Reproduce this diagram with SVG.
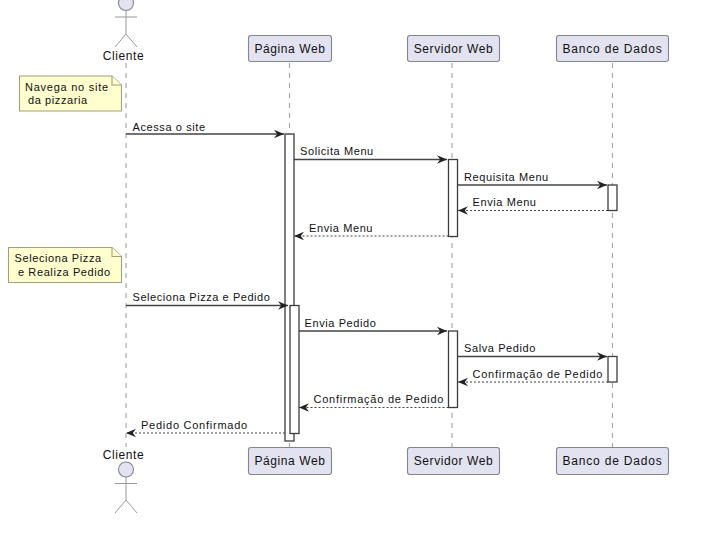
<svg xmlns="http://www.w3.org/2000/svg" width="705" height="538" viewBox="0 0 705 538">
<style>
text{font-family:"Liberation Sans",Arial,sans-serif;fill:#111}
.m{font-size:11px;letter-spacing:.6px}
.w{letter-spacing:.75px}
.p{font-size:12px;letter-spacing:.6px}
.b{letter-spacing:.8px}
.life{stroke:#a8a8a8;stroke-width:1.2;stroke-dasharray:5 5;fill:none}
.box{fill:#e2e2f0;stroke:#85858c;stroke-width:1.1}
.act{fill:#fff;stroke:#3c3c3c;stroke-width:1.3}
.note{fill:#fefece;stroke:#a0a080;stroke-width:1.1}
.fig{fill:none;stroke:#999;stroke-width:1}
.s{stroke:#444;stroke-width:1.4;fill:none;marker-end:url(#a)}
.d{stroke:#444;stroke-width:1.1;stroke-dasharray:2 2;fill:none;marker-end:url(#b)}
</style>
<defs>
<marker id="a" markerUnits="userSpaceOnUse" markerWidth="12" markerHeight="10" refX="10" refY="5" orient="auto"><path d="M0 .8L10 5L0 9.200L3.200 5Z" fill="#222"/></marker>
<marker id="b" markerUnits="userSpaceOnUse" markerWidth="12" markerHeight="10" refX="10" refY="5" orient="auto"><path d="M0 .8L10 5L0 9.200L3.200 5Z" fill="#222"/></marker>
</defs>
<g id="lifelines">
<path class="life" d="M126 63V447"/><path class="life" d="M289.500 63V447"/><path class="life" d="M452 63V447"/><path class="life" d="M612.500 63V447"/>
</g>
<g id="activations">
<rect class="act" x="285" y="134" width="9" height="307"/>
<rect class="act" x="290" y="305.500" width="9" height="128"/>
<rect class="act" x="448.500" y="159.500" width="9" height="77"/>
<rect class="act" x="608" y="185" width="9" height="25.500"/>
<rect class="act" x="448.500" y="331" width="9" height="76.500"/>
<rect class="act" x="608" y="356.500" width="9" height="25.500"/>
</g>
<g id="cliente-top">
<circle class="box" cx="126" cy="3" r="7.500"/>
<path class="fig" d="M126 10.500V34M115 17H137M115 47L126 34L137 47"/>
<text class="p" x="123.500" y="60" text-anchor="middle">Cliente</text>
</g>
<g id="pagina-top"><rect class="box" x="248.500" y="35.500" width="83" height="26" rx="2.500"/><text class="p" x="290" y="52.500" text-anchor="middle">Página Web</text></g>
<g id="servidor-top"><rect class="box" x="407.500" y="35.500" width="92" height="26" rx="2.500"/><text class="p" x="453.500" y="52.500" text-anchor="middle">Servidor Web</text></g>
<g id="banco-top"><rect class="box" x="556.500" y="35.500" width="112" height="26" rx="2.500"/><text class="p b" x="612.500" y="52.500" text-anchor="middle">Banco de Dados</text></g>
<g id="note1"><path class="note" d="M19.500 76H112L121.500 85V111H19.500Z"/><path class="note" d="M112 76V85H121.500"/><text class="m w" x="25" y="91">Navega no site</text><text class="m" x="28" y="104">da pizzaria</text></g>
<g id="note2"><path class="note" d="M8.500 247.500H112L121.500 256.500V282.500H8.500Z"/><path class="note" d="M112 247.500V256.500H121.500"/><text class="m" x="14.500" y="262">Seleciona Pizza</text><text class="m" x="18" y="276">e Realiza Pedido</text></g>
<g id="connectors">
<path class="s" d="M126 134H284"/>
<path class="s" d="M294 159.500H447"/>
<path class="s" d="M457.500 185H607"/>
<path class="d" d="M608 210.500H458"/>
<path class="d" d="M448.500 236H294"/>
<path class="s" d="M126 305.500H288"/>
<path class="s" d="M299 331H447"/>
<path class="s" d="M457.500 356.500H607"/>
<path class="d" d="M608 382H458"/>
<path class="d" d="M448.500 407.500H299"/>
<path class="d" d="M285 433H126"/>
</g>
<g id="labels">
<text class="m" x="132.500" y="130.500">Acessa o site</text>
<text class="m" x="300" y="155">Solicita Menu</text>
<text class="m" x="464" y="181">Requisita Menu</text>
<text class="m" x="472.500" y="206">Envia Menu</text>
<text class="m" x="309" y="232">Envia Menu</text>
<text class="m" style="letter-spacing:.55px" x="132.500" y="301">Seleciona Pizza e Pedido</text>
<text class="m" x="304.500" y="327">Envia Pedido</text>
<text class="m" x="464" y="352">Salva Pedido</text>
<text class="m w" x="472.500" y="378">Confirmação de Pedido</text>
<text class="m w" x="313.500" y="403">Confirmação de Pedido</text>
<text class="m w" x="141" y="429">Pedido Confirmado</text>
</g>
<g id="cliente-bottom">
<text class="p" x="123.500" y="459" text-anchor="middle">Cliente</text>
<circle class="box" cx="126" cy="469.500" r="7.500"/>
<path class="fig" d="M126 477V500M115 483.500H137M115 513L126 500L137 513"/>
</g>
<g id="pagina-bottom"><rect class="box" x="248.500" y="447.500" width="83" height="27" rx="2.500"/><text class="p" x="290" y="465" text-anchor="middle">Página Web</text></g>
<g id="servidor-bottom"><rect class="box" x="407.500" y="447.500" width="92" height="27" rx="2.500"/><text class="p" x="453.500" y="465" text-anchor="middle">Servidor Web</text></g>
<g id="banco-bottom"><rect class="box" x="556.500" y="447.500" width="112" height="27" rx="2.500"/><text class="p b" x="612.500" y="465" text-anchor="middle">Banco de Dados</text></g>
</svg>
